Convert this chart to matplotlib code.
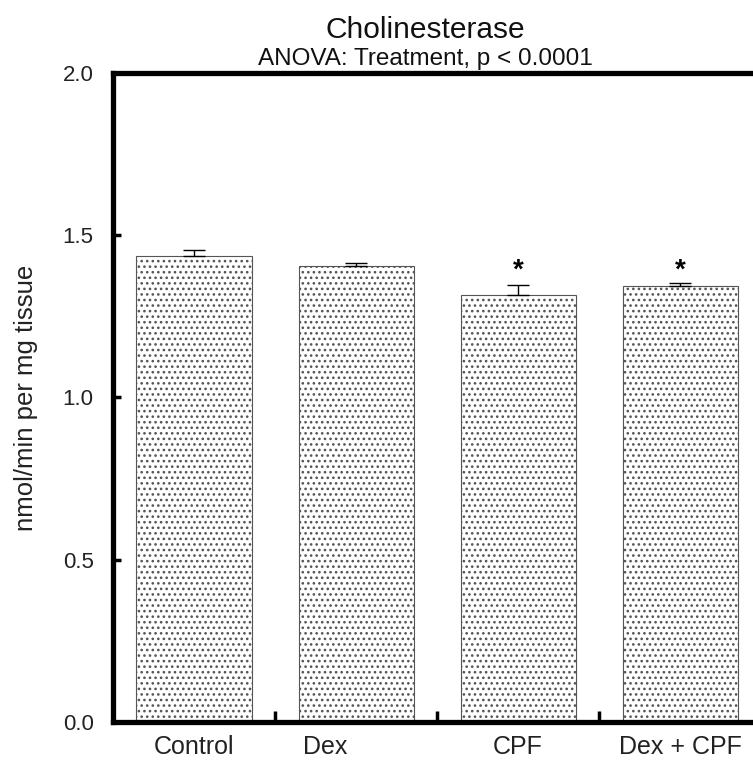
import matplotlib
matplotlib.use("Agg")
import matplotlib.pyplot as plt
import numpy as np

plt.rcParams['font.family'] = ['Liberation Sans', 'DejaVu Sans']
plt.rcParams['hatch.linewidth'] = 1.1
plt.rcParams['hatch.color'] = '#333333'

groups = ['Control', 'Dex', 'CPF', 'Dex + CPF']
label_pos = [0, 0.81, 2, 3]
means = [1.436, 1.406, 1.316, 1.345]
sem_up = [0.019, 0.008, 0.030, 0.009]
signif = [False, False, True, True]

fig = plt.figure(figsize=(7.53, 7.60), dpi=100)
ax = fig.add_axes([0.150, 0.050, 0.861, 0.854])

x = np.arange(len(groups))
ax.bar(x, means, width=0.71, color='white', edgecolor='#555555',
       linewidth=0.8, hatch='...')
ax.errorbar(x, means, yerr=[np.zeros(len(means)), sem_up], fmt='none',
            ecolor='black', elinewidth=1.0, capsize=8, capthick=1.0)

# asterisks over the groups that differ from control
for xi, sig in zip(x, signif):
    if sig:
        ax.text(xi, 1.39, '*', ha='center', va='center',
                fontsize=20, fontweight='bold')

ax.set_xlim(-0.5, 3.5)
ax.set_ylim(0, 2.0)
ax.set_yticks([0.0, 0.5, 1.0, 1.5, 2.0])
ax.set_yticklabels(['0.0', '0.5', '1.0', '1.5', '2.0'])
ax.set_xticks(label_pos)
ax.set_xticklabels(groups)
ax.set_xticks([0.5, 1.5, 2.5], minor=True)

ax.tick_params(axis='x', which='major', length=0, pad=9, labelsize=18,
               labelcolor='#222222')
ax.tick_params(axis='x', which='minor', direction='in', length=8, width=2.5)
ax.tick_params(axis='y', direction='in', length=6, width=2.5,
               pad=14, labelsize=16, labelcolor='#222222')

for sp in ax.spines.values():
    sp.set_linewidth(3.8)

ax.set_ylabel('nmol/min per mg tissue', fontsize=18.5, labelpad=18,
              color='#222222')

fig.text(0.565, 0.960, 'Cholinesterase', ha='center', va='center',
         fontsize=21.5, color='#111111')
fig.text(0.565, 0.923, 'ANOVA: Treatment, p < 0.0001', ha='center',
         va='center', fontsize=17.5, color='#111111')

fig.savefig('out.png', dpi=100)
